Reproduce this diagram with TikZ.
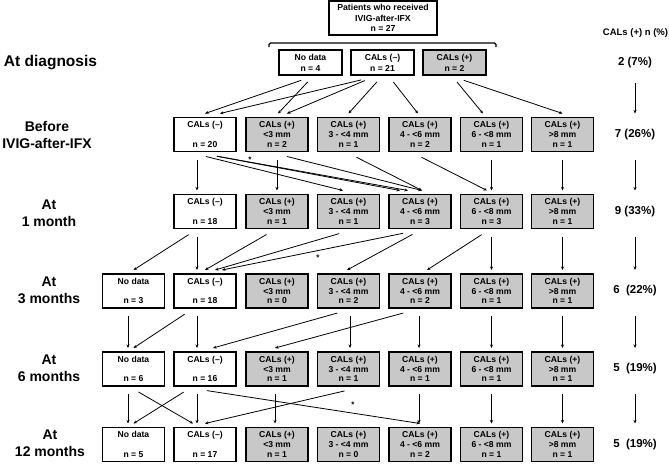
\documentclass[tikz,border=0pt]{standalone}
\usepackage{fontspec}
\setmainfont{Liberation Sans}
\usetikzlibrary{arrows.meta}
\definecolor{calgray}{RGB}{200,200,200}
\begin{document}
\begin{tikzpicture}[
  x=1pt, y=-1pt,
  box/.style={draw, line width=1.15pt, minimum width=62pt, minimum height=34pt, inner sep=0pt, outer ysep=4pt, align=center, font=\fontsize{8.6}{9.7}\selectfont\bfseries},
  posbox/.style={box, fill=calgray},
  dbox/.style={box, minimum width=63pt, minimum height=25pt, font=\fontsize{8.6}{11}\selectfont\bfseries},
  stage/.style={align=center, font=\fontsize{14}{17}\selectfont\bfseries},
  share/.style={font=\fontsize{11.5}{13}\selectfont\bfseries},
  arr/.style={line width=0.8pt, -{Stealth[length=3.5pt,width=3pt]}, shorten <=4pt},
  star/.style={inner sep=0pt, font=\fontsize{8}{8}\selectfont\bfseries}
]
\useasboundingbox (0,0) rectangle (669,463);

\node[box, minimum width=108pt, font=\fontsize{8.7}{10.5}\selectfont\bfseries] (total) at (383,18) {Patients who received\\IVIG-after-IFX\\n = 27};
\draw[line width=1.15pt, rounded corners=1.5pt] (269,47) |- (496,43) -- (496,47);

\node[dbox] (dnd) at (310.5,62.5) {No data\\n = 4};
\node[dbox] (dneg) at (382.5,62.5) {CALs (–)\\n = 21};
\node[dbox, fill=calgray] (dpos) at (454.5,62.5) {CALs (+)\\n = 2};

\node[stage, font=\fontsize{15.5}{17}\selectfont\bfseries] (sdiag) at (50.5,62.5) {At diagnosis};
\node[stage] (sbefore) at (47,134.5) {Before\\IVIG-after-IFX};
\node[stage] (s1) at (49,213) {At\\1 month};
\node[stage] (s3) at (49,290) {At\\3 months};
\node[stage] (s6) at (49,368) {At\\6 months};
\node[stage] (s12) at (50,443.5) {At\\12 months};

\node[share, font=\fontsize{9.5}{11}\selectfont\bfseries] (rhead) at (635.5,33) {CALs (+) n (\%)};
\node[share] (r0) at (635,62.5) {2 (7\%)};
\node[share] (r1) at (635,134.5) {7 (26\%)};
\node[share] (r2) at (635,211.5) {9 (33\%)};
\node[share] (r3) at (635,291) {6~~(22\%)};
\node[share] (r4) at (635,369) {5~~(19\%)};
\node[share] (r5) at (635,444.5) {5~~(19\%)};

\node[box] (b-neg) at (205,134.5) {CALs (–)\\~\\n = 20};
\node[posbox] (b-lt3) at (277,134.5) {CALs (+)\\<3 mm\\n = 2};
\node[posbox] (b-34) at (348.5,134.5) {CALs (+)\\3 - <4 mm\\n = 1};
\node[posbox] (b-46) at (420,134.5) {CALs (+)\\4 - <6 mm\\n = 2};
\node[posbox] (b-68) at (491.5,134.5) {CALs (+)\\6 - <8 mm\\n = 1};
\node[posbox] (b-gt8) at (562.5,134.5) {CALs (+)\\>8 mm\\n = 1};

\node[box] (m1-neg) at (205,211.5) {CALs (–)\\~\\n = 18};
\node[posbox] (m1-lt3) at (277,211.5) {CALs (+)\\<3 mm\\n = 1};
\node[posbox] (m1-34) at (348.5,211.5) {CALs (+)\\3 - <4 mm\\n = 1};
\node[posbox] (m1-46) at (420,211.5) {CALs (+)\\4 - <6 mm\\n = 3};
\node[posbox] (m1-68) at (491.5,211.5) {CALs (+)\\6 - <8 mm\\n = 3};
\node[posbox] (m1-gt8) at (562.5,211.5) {CALs (+)\\>8 mm\\n = 1};

\node[box] (m3-nd) at (133.5,291) {No data\\~\\n = 3};
\node[box] (m3-neg) at (205,291) {CALs (–)\\~\\n = 18};
\node[posbox] (m3-lt3) at (277,291) {CALs (+)\\<3 mm\\n = 0};
\node[posbox] (m3-34) at (348.5,291) {CALs (+)\\3 - <4 mm\\n = 2};
\node[posbox] (m3-46) at (420,291) {CALs (+)\\4 - <6 mm\\n = 2};
\node[posbox] (m3-68) at (491.5,291) {CALs (+)\\6 - <8 mm\\n = 1};
\node[posbox] (m3-gt8) at (562.5,291) {CALs (+)\\>8 mm\\n = 1};

\node[box] (m6-nd) at (133.5,369) {No data\\~\\n = 6};
\node[box] (m6-neg) at (205,369) {CALs (–)\\~\\n = 16};
\node[posbox] (m6-lt3) at (277,369) {CALs (+)\\<3 mm\\n = 1};
\node[posbox] (m6-34) at (348.5,369) {CALs (+)\\3 - <4 mm\\n = 1};
\node[posbox] (m6-46) at (420,369) {CALs (+)\\4 - <6 mm\\n = 1};
\node[posbox] (m6-68) at (491.5,369) {CALs (+)\\6 - <8 mm\\n = 1};
\node[posbox] (m6-gt8) at (562.5,369) {CALs (+)\\>8 mm\\n = 1};

\node[box] (m12-nd) at (133.5,444.5) {No data\\~\\n = 5};
\node[box] (m12-neg) at (205,444.5) {CALs (–)\\~\\n = 17};
\node[posbox] (m12-lt3) at (277,444.5) {CALs (+)\\<3 mm\\n = 1};
\node[posbox] (m12-34) at (348.5,444.5) {CALs (+)\\3 - <4 mm\\n = 0};
\node[posbox] (m12-46) at (420,444.5) {CALs (+)\\4 - <6 mm\\n = 2};
\node[posbox] (m12-68) at (491.5,444.5) {CALs (+)\\6 - <8 mm\\n = 1};
\node[posbox] (m12-gt8) at (562.5,444.5) {CALs (+)\\>8 mm\\n = 1};

\draw[arr] ([xshift=-5.5pt]dnd.south) -- (b-neg.north);
\draw[arr] (dnd.south) -- ([xshift=1pt]b-lt3.north);
\draw[arr] ([xshift=-17.5pt]dneg.south) -- ([xshift=15pt]b-neg.north);
\draw[arr] ([xshift=-14pt]dneg.south) -- ([xshift=10pt]b-lt3.north);
\draw[arr] ([xshift=-3pt]dneg.south) -- (b-34.north);
\draw[arr] ([xshift=8.5pt]dneg.south) -- ([xshift=-2pt]b-46.north);
\draw[arr] (dpos.south) -- ([xshift=-8.5pt]b-68.north);
\draw[arr] ([xshift=5.5pt]dpos.south) -- (b-gt8.north);

\draw[arr] ([xshift=-8pt]b-neg.south) -- ([xshift=-8pt]m1-neg.north);
\draw[arr] ([xshift=-3pt]b-neg.south) -- ([xshift=-5.5pt]m1-34.north);
\draw[arr] ([xshift=8pt]b-neg.south) -- ([xshift=-20pt]m1-46.north);
\draw[arr] ([xshift=8pt]b-neg.south) -- ([xshift=-12pt]m1-46.north);
\draw[arr] (b-lt3.south) -- (m1-lt3.north);
\draw[arr] ([xshift=6pt]b-lt3.south) -- ([xshift=2pt]m1-46.north);
\draw[arr] ([xshift=4.5pt]b-34.south) -- ([xshift=2pt]m1-46.north);
\draw[arr] ([xshift=-2pt]b-46.south) -- ([xshift=-4.5pt]m1-68.north);
\draw[arr] (b-68.south) -- (m1-68.north);
\draw[arr] (b-gt8.south) -- (m1-gt8.north);
\node[star] (star1) at (250,160) {*};

\draw[arr] ([xshift=-13pt]m1-neg.south) -- (m3-nd.north);
\draw[arr] ([xshift=-8pt]m1-neg.south) -- ([xshift=-8pt]m3-neg.north);
\draw[arr] ([xshift=-7pt]m1-lt3.south) -- (m3-neg.north);
\draw[arr] ([xshift=-5.5pt]m1-34.south) -- ([xshift=10pt]m3-neg.north);
\draw[arr] ([xshift=-13pt]m1-46.south) -- ([xshift=17pt]m3-neg.north);
\draw[arr] ([xshift=-4pt]m1-46.south) -- ([xshift=-1.5pt]m3-34.north);
\draw[arr] ([xshift=-6.5pt]m1-68.south) -- ([xshift=7pt]m3-46.north);
\draw[arr] (m1-68.south) -- (m3-68.north);
\draw[arr] (m1-gt8.south) -- (m3-gt8.north);
\node[star] (star2) at (318,258) {*};

\draw[arr] ([xshift=-5.5pt]m3-nd.south) -- ([xshift=-5.5pt]m6-nd.north);
\draw[arr] ([xshift=-17pt]m3-neg.south) -- (m6-nd.north);
\draw[arr] ([xshift=-8pt]m3-neg.south) -- ([xshift=-8pt]m6-neg.north);
\draw[arr] ([xshift=-7.5pt]m3-34.south) -- ([xshift=8pt]m6-neg.north);
\draw[arr] ([xshift=1.5pt]m3-34.south) -- ([xshift=1.5pt]m6-34.north);
\draw[arr] ([xshift=-13pt]m3-46.south) -- ([xshift=-2pt]m6-lt3.north);
\draw[arr] ([xshift=-1pt]m3-46.south) -- ([xshift=-1pt]m6-46.north);
\draw[arr] (m3-68.south) -- (m6-68.north);
\draw[arr] (m3-gt8.south) -- (m6-gt8.north);

\draw[arr] ([xshift=-5.5pt]m6-nd.south) -- ([xshift=-5.5pt]m12-nd.north);
\draw[arr] ([xshift=1.5pt]m6-nd.south) -- ([xshift=-12pt]m12-neg.north);
\draw[arr] ([xshift=-18pt]m6-neg.south) -- (m12-nd.north);
\draw[arr] ([xshift=-8pt]m6-neg.south) -- ([xshift=-8pt]m12-neg.north);
\draw[arr] ([xshift=-2pt]m6-neg.south) -- (m12-46.north);
\draw[arr] ([xshift=-2pt]m6-lt3.south) -- ([xshift=-2pt]m12-lt3.north);
\draw[arr] (m6-34.south) -- (m12-neg.north);
\draw[arr] ([xshift=-1pt]m6-46.south) -- ([xshift=-1pt]m12-46.north);
\draw[arr] (m6-68.south) -- (m12-68.north);
\draw[arr] (m6-gt8.south) -- (m12-gt8.north);
\node[star] (star3) at (353,405) {*};

\draw[arr] (r0 |- dpos.south) -- (r1 |- b-gt8.north);
\draw[arr] (r1 |- b-gt8.south) -- (r2 |- m1-gt8.north);
\draw[arr] (r2 |- m1-gt8.south) -- (r3 |- m3-gt8.north);
\draw[arr] (r3 |- m3-gt8.south) -- (r4 |- m6-gt8.north);
\draw[arr] (r4 |- m6-gt8.south) -- (r5 |- m12-gt8.north);
\end{tikzpicture}
\end{document}
